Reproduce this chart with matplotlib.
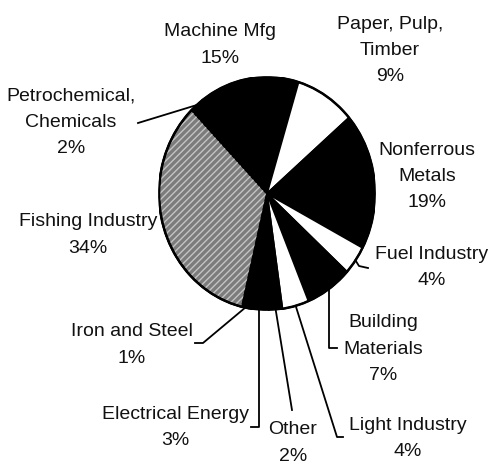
import matplotlib
matplotlib.use("Agg")
import matplotlib.pyplot as plt
import numpy as np
from matplotlib.patches import Wedge

# sectors, clockwise from the top
sectors = ["Machine Mfg", "Paper, Pulp,\nTimber", "Nonferrous\nMetals", "Fuel Industry",
           "Building\nMaterials", "Light Industry", "Other", "Electrical Energy",
           "Iron and Steel", "Fishing Industry", "Petrochemical,\nChemicals"]
shares = [15, 9, 19, 4, 7, 4, 2, 3, 1, 34, 2]
fills = ["black", "white", "black", "white", "black", "white",
         "black", "black", "black", "#7c7c7c", "black"]

W, H = 489, 467
cx, cy, rx, ry = 267, 193.5, 108, 116.5   # pie centre / radii in pixels

plt.rcParams["font.family"] = ["Liberation Sans", "DejaVu Sans"]
plt.rcParams["hatch.linewidth"] = 1.0

fig = plt.figure(figsize=(W / 100, H / 100), dpi=100)
fig.patch.set_facecolor("white")

ax = fig.add_axes([(cx - rx) / W, (H - cy - ry) / H, 2 * rx / W, 2 * ry / H])
wedges, _ = ax.pie(shares, colors=fills, startangle=127, counterclock=False,
                   wedgeprops=dict(edgecolor="black", linewidth=1.3))
ax.set_aspect("auto")
ax.set_xlim(-1, 1)
ax.set_ylim(-1, 1)
ax.axis("off")

# hatching on the fishing sector
fw = wedges[9]
ax.add_patch(Wedge((0, 0), 1, fw.theta1, fw.theta2, fill=False, hatch="/////",
                   edgecolor="#c4c4c4", linewidth=0))
ax.add_patch(Wedge((0, 0), 1, fw.theta1, fw.theta2, fill=False,
                   edgecolor="black", linewidth=1.3))
ax.add_patch(plt.Circle((0, 0), 1, fill=False, edgecolor="black", linewidth=1.8))

# overlay in pixel coordinates for labels and leaders
ov = fig.add_axes([0, 0, 1, 1])
ov.set_xlim(0, W)
ov.set_ylim(H, 0)
ov.axis("off")


def rim(i):
    t = np.deg2rad((wedges[i].theta1 + wedges[i].theta2) / 2)
    return cx + rx * np.cos(t), cy - ry * np.sin(t)


label_pos = [(220, 45), (390, 50.5), (427, 176.5), (432, 267.5), (383, 349),
             (408, 438.5), (293, 443), (175, 427.5), (132, 345), (88, 235),
             (71, 122.5)]

for i, (name, val) in enumerate(zip(sectors, shares)):
    x, y = label_pos[i]
    ov.text(x, y, f"{name}\n{val}%", ha="center", va="center", fontsize=14,
            color="#111111", linespacing=1.7)

# leader lines
leaders = {
    3: lambda x, y: [(x, y), (359, 266), (368, 268)],
    4: lambda x, y: [(x, y), (x, 348), (337, 348)],
    5: lambda x, y: [(x, y), (337, 437), (343, 437)],
    6: lambda x, y: [(x, y), (292, 410)],
    7: lambda x, y: [(x, y), (x, 427), (251, 427)],
    8: lambda x, y: [(x, y), (203, 343), (195, 343)],
    10: lambda x, y: [(x, y), (138, 123)],
}
for i, path in leaders.items():
    pts = np.array(path(*rim(i)))
    ov.plot(pts[:, 0], pts[:, 1], color="black", linewidth=1.3)

fig.savefig("out.png", dpi=100, facecolor="white")
